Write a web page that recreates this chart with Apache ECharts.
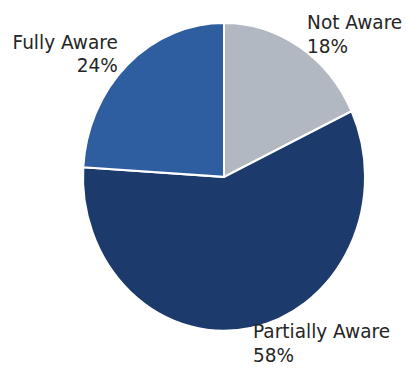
<!DOCTYPE html>
<html>
<head>
<meta charset="utf-8">
<script src="https://cdn.jsdelivr.net/npm/echarts@6/dist/echarts.min.js"></script>
<style>
  html { overflow: hidden; }
  html, body { margin: 0; padding: 0; background: #ffffff; width: 406px; height: 368px; }
  /* the figure is drawn slightly taller than wide */
  #chart { width: 406px; height: 337px; transform: scaleY(1.092); transform-origin: 0 0; }
</style>
</head>
<body>
<div id="chart"></div>
<script>
// Awareness survey shares (percent)
const categories = ['Not Aware', 'Partially Aware', 'Fully Aware'];
const shares = [18, 58, 24];
const sliceColors = ['#b1b8c2', '#1c3a6b', '#2e5ea0'];

const chart = echarts.init(document.getElementById('chart'), null, { renderer: 'svg' });

chart.setOption({
  animation: false,
  backgroundColor: '#ffffff',
  series: [{
    type: 'pie',
    center: [224, 162],
    radius: 141,
    startAngle: 90,
    clockwise: true,
    avoidLabelOverlap: false,
    data: categories.map((name, i) => ({
      name,
      value: shares[i],
      itemStyle: { color: sliceColors[i] }
    })),
    itemStyle: { borderColor: '#ffffff', borderWidth: 2 },
    label: {
      show: true,
      position: 'outside',
      formatter: p => p.name + '\n' + p.value + '%',
      fontFamily: 'DejaVu Sans',
      fontSize: 18.5,
      lineHeight: 21.5,
      color: '#262626',
      distanceToLabelLine: 0
    },
    labelLine: { show: false, length: 14, length2: 0 },
    emphasis: { disabled: true }
  }]
});
</script>
</body>
</html>
